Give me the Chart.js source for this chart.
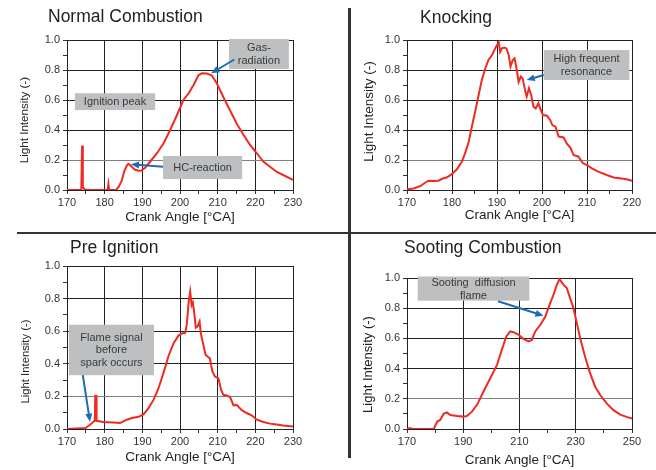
<!DOCTYPE html>
<html>
<head>
<meta charset="utf-8">
<script src="https://cdn.jsdelivr.net/npm/chart.js@4.4.1/dist/chart.umd.min.js"></script>
<style>
  body { margin: 0; background: #fff; width: 656px; height: 470px; position: relative; overflow: hidden;
         font-family: "Liberation Sans", Arial, sans-serif; }
  canvas { position: absolute; left: 0; top: 0; }
  .title { position: absolute; font-size: 17.5px; line-height: 1; color: #222; white-space: nowrap; }
  .vline { position: absolute; left: 348px; top: 8px; width: 2.5px; height: 450px; background: #333; }
  .hline { position: absolute; left: 17px; top: 232px; width: 639px; height: 2px; background: #333; }
</style>
</head>
<body>
<div class="vline"></div>
<div class="hline"></div>
<canvas id="c1" width="656" height="470"></canvas>
<canvas id="c2" width="656" height="470"></canvas>
<canvas id="c3" width="656" height="470"></canvas>
<canvas id="c4" width="656" height="470"></canvas>
<div class="title" style="left:48px;top:8.2px">Normal Combustion</div>
<div class="title" style="left:420px;top:8.5px">Knocking</div>
<div class="title" style="left:70px;top:239.2px">Pre Ignition</div>
<div class="title" style="left:404px;top:239.2px">Sooting Combustion</div>
<script>
// values
const normalAngle = [170, 173.8, 174.0, 174.2, 174.6, 175.2, 180.8, 181.0, 181.2, 183.0, 183.7, 184.5, 185.2, 185.9, 186.3, 186.8,
  187.4, 188.1, 189.0, 189.8, 190.8, 192.1, 193.9, 195.6, 197.4, 199.2, 200.9, 202.3, 203.6, 204.9, 205.8, 207.1, 208.4,
  209.8, 211.5, 213.3, 215.1, 216.8, 218.6, 220.4, 222.1, 223.9, 225.7, 227.4, 229.2, 230];
const normalIntensity = [0, 0, 0.296, 0.02, 0.006, 0, 0, 0.04, 0, 0, 0.02, 0.06, 0.125, 0.165, 0.174, 0.165,
  0.15, 0.135, 0.128, 0.13, 0.15, 0.19, 0.245, 0.31, 0.40, 0.50, 0.60, 0.645, 0.70, 0.765, 0.778, 0.777, 0.765,
  0.71, 0.62, 0.53, 0.44, 0.37, 0.30, 0.245, 0.19, 0.155, 0.12, 0.10, 0.078, 0.067];

const knockAngle = [170, 171.5, 173, 174.1, 174.8, 175.9, 177, 177.8, 178.9, 180, 181.1, 182.2, 182.9, 183.7, 184.4, 185.2,
  185.9, 186.6, 187.4, 188.1, 188.9, 189.6, 190, 190.4, 190.7, 191.1, 191.6, 192.1, 192.6, 193, 193.5, 193.9, 194.4,
  194.8, 195.3, 195.7, 196.3, 196.6, 197.1, 197.6, 198.1, 198.6, 199.2, 199.6, 200.2, 201.1, 201.8, 202.3, 203, 203.7,
  204.8, 205.5, 206.4, 207, 208.1, 209.1, 209.9, 211.1, 212.5, 214.4, 215.9, 217.3, 218.8, 220];
const knockIntensity = [0.005, 0.01, 0.027, 0.05, 0.062, 0.06, 0.062, 0.075, 0.085, 0.107, 0.138, 0.19, 0.244, 0.32, 0.42, 0.53,
  0.63, 0.73, 0.81, 0.867, 0.90, 0.944, 0.967, 0.984, 0.92, 0.944, 0.95, 0.944, 0.90, 0.823, 0.867, 0.878, 0.80,
  0.72, 0.756, 0.744, 0.656, 0.622, 0.678, 0.633, 0.556, 0.544, 0.578, 0.544, 0.50, 0.495, 0.467, 0.433, 0.422, 0.356,
  0.35, 0.31, 0.278, 0.233, 0.222, 0.178, 0.167, 0.144, 0.122, 0.10, 0.084, 0.078, 0.071, 0.062];

const preAngle = [170, 174.9, 176.2, 177.1, 177.4, 177.5, 177.75, 177.85, 179.7, 182.4, 184.1, 185.9, 187.2, 189, 190.3, 191.6,
  193, 194.3, 195.6, 196.9, 198.3, 199.6, 200.7, 201.4, 201.8, 202.3, 202.7, 203.1, 203.4, 203.7, 204.2, 204.7, 205.2,
  205.5, 206.2, 206.8, 207.3, 207.9, 208.6, 209.3, 210.2, 210.9, 211.5, 212.4, 213.3, 214.2, 215.1, 216.4, 217.7, 219,
  220.4, 222.1, 223.9, 225.7, 227.4, 230];
const preIntensity = [0, 0.006, 0.027, 0.047, 0.05, 0.204, 0.204, 0.05, 0.043, 0.04, 0.037, 0.057, 0.067, 0.075, 0.09, 0.127,
  0.18, 0.25, 0.343, 0.445, 0.527, 0.573, 0.588, 0.59, 0.64, 0.78, 0.843, 0.76, 0.776, 0.73, 0.622, 0.63, 0.66,
  0.59, 0.516, 0.455, 0.445, 0.435, 0.353, 0.322, 0.31, 0.24, 0.21, 0.206, 0.196, 0.145, 0.147, 0.116, 0.098, 0.084,
  0.057, 0.043, 0.033, 0.027, 0.022, 0.016];

const sootAngle = [170, 171, 172, 179.5, 180.7, 181.8, 183, 184.2, 185.4, 187.8, 190.1, 191.3, 193.1, 194.9, 197.2, 199.6,
  202, 203.7, 205.3, 206.7, 207.9, 209.7, 211.4, 213.2, 214.4, 215.6, 217.4, 219.2, 220.9, 222.1, 223.3, 224.2, 225.6,
  226.8, 228, 229.2, 230.4, 231.6, 233.3, 235.1, 236.9, 238.7, 241, 243.4, 245.8, 248.1, 250];
const sootIntensity = [0, 0.006, 0, 0, 0.048, 0.06, 0.1, 0.11, 0.093, 0.086, 0.082, 0.086, 0.115, 0.16, 0.248, 0.336,
  0.425, 0.524, 0.613, 0.646, 0.641, 0.624, 0.597, 0.58, 0.59, 0.646, 0.69, 0.745, 0.834, 0.889, 0.956, 0.993, 0.956,
  0.934, 0.867, 0.80, 0.70, 0.60, 0.48, 0.37, 0.28, 0.225, 0.17, 0.125, 0.095, 0.08, 0.07];

// callouts, in data coordinates
const normalNotes = [
  { text: ['Gas-', 'radiation'], box: [213, 228.9, 1.007, 0.807], arrow: [214.4, 0.87, 208.3, 0.778] },
  { text: ['Ignition peak'], box: [172.1, 193.4, 0.645, 0.533] },
  { text: ['HC-reaction'], box: [195.5, 216.5, 0.227, 0.073], arrow: [195.5, 0.155, 187.0, 0.171] }
];
const knockNotes = [
  { text: ['High frequent', 'resonance'], box: [200.4, 219.4, 0.933, 0.733], arrow: [200.4, 0.767, 196.6, 0.733] }
];
const preNotes = [
  { text: ['Flame signal', 'before', 'spark occurs'], box: [170.5, 193.1, 0.64, 0.33], arrow: [174.2, 0.33, 176.1, 0.045] }
];
const sootNotes = [
  { text: ['Sooting  diffusion', 'flame'], box: [173.8, 213.5, 1.01, 0.85], arrow: [202.4, 0.846, 218.5, 0.75] }
];

const FONT = '"Liberation Sans", Arial, sans-serif';
Chart.defaults.font.family = FONT;

function drawArrow(ctx, x1, y1, x2, y2) {
  const a = Math.atan2(y2 - y1, x2 - x1);
  const hl = 8, hw = 3.5;
  ctx.beginPath();
  ctx.moveTo(x1, y1);
  ctx.lineTo(x2 - hl * 0.8 * Math.cos(a), y2 - hl * 0.8 * Math.sin(a));
  ctx.stroke();
  ctx.beginPath();
  ctx.moveTo(x2, y2);
  ctx.lineTo(x2 - hl * Math.cos(a) + hw * Math.sin(a), y2 - hl * Math.sin(a) - hw * Math.cos(a));
  ctx.lineTo(x2 - hl * Math.cos(a) - hw * Math.sin(a), y2 - hl * Math.sin(a) + hw * Math.cos(a));
  ctx.closePath();
  ctx.fill();
}

const calloutPlugin = {
  id: 'callouts',
  afterDatasetsDraw(chart, args, opts) {
    const ctx = chart.ctx, xs = chart.scales.x, ys = chart.scales.y;
    ctx.save();
    // y axis title, placed like the original (not centred on the axis)
    const yt = opts.yTitle;
    ctx.translate(yt.x, yt.y);
    ctx.rotate(-Math.PI / 2);
    ctx.fillStyle = '#222';
    ctx.font = yt.size + 'px ' + FONT;
    ctx.textAlign = 'center';
    ctx.textBaseline = 'middle';
    ctx.fillText('Light Intensity (-)', 0, 0);
    ctx.setTransform(1, 0, 0, 1, 0, 0);

    (opts.notes || []).forEach(n => {
      const x1 = xs.getPixelForValue(n.box[0]), x2 = xs.getPixelForValue(n.box[1]);
      const y1 = ys.getPixelForValue(n.box[2]), y2 = ys.getPixelForValue(n.box[3]);
      ctx.fillStyle = '#bdbfc1';
      ctx.fillRect(x1, y1, x2 - x1, y2 - y1);
      ctx.fillStyle = '#3a3a3a';
      ctx.font = '11px ' + FONT;
      ctx.textAlign = 'center';
      ctx.textBaseline = 'middle';
      const lh = 12.8, cy = (y1 + y2) / 2 + 0.5;
      n.text.forEach((t, i) => {
        ctx.fillText(t, (x1 + x2) / 2, cy + (i - (n.text.length - 1) / 2) * lh);
      });
      if (n.arrow) {
        ctx.strokeStyle = '#1c6bb4';
        ctx.fillStyle = '#1c6bb4';
        ctx.lineWidth = 2;
        drawArrow(ctx, xs.getPixelForValue(n.arrow[0]), ys.getPixelForValue(n.arrow[1]),
          xs.getPixelForValue(n.arrow[2]), ys.getPixelForValue(n.arrow[3]));
      }
    });
    ctx.restore();
  }
};

const panels = [
  { id: 'c1', xs: normalAngle, ys: normalIntensity, notes: normalNotes, min: 170, max: 230, step: 5,
    major: v => v % 10 === 0, area: [67, 293, 40, 190], xTitlePad: 5, yTitle: { x: 25, y: 120, size: 11.6 } },
  { id: 'c2', xs: knockAngle, ys: knockIntensity, notes: knockNotes, min: 170, max: 220, step: 5,
    major: v => v % 10 === 0, area: [407, 632, 40, 190], xTitlePad: 7, yTitle: { x: 369, y: 111.5, size: 13.5 } },
  { id: 'c3', xs: preAngle, ys: preIntensity, notes: preNotes, min: 170, max: 230, step: 5,
    major: v => v % 10 === 0, area: [67, 293, 266, 429], xTitlePad: 4, yTitle: { x: 26, y: 361.5, size: 11.3 } },
  { id: 'c4', xs: sootAngle, ys: sootIntensity, notes: sootNotes, min: 170, max: 250, step: 10,
    major: v => (v - 170) % 20 === 0, area: [407, 632, 278, 429], xTitlePad: 1, yTitle: { x: 368.5, y: 364.5, size: 13 } }
];

panels.forEach(p => {
  const [L, R, T, B] = p.area;
  const isMajorY = v => Math.round(v * 10) % 2 === 0;
  new Chart(document.getElementById(p.id), {
    type: 'line',
    data: {
      datasets: [{
        data: p.xs.map((x, i) => ({ x: x, y: p.ys[i] })),
        borderColor: '#ee2a22',
        borderWidth: 2,
        pointRadius: 0,
        tension: 0,
        fill: false
      }]
    },
    options: {
      responsive: false,
      animation: false,
      layout: { padding: { left: L - 60, right: 656 - R, top: T, bottom: 470 - B - 40 } },
      plugins: {
        legend: { display: false },
        tooltip: { enabled: false },
        callouts: { notes: p.notes, yTitle: p.yTitle }
      },
      scales: {
        x: {
          type: 'linear', min: p.min, max: p.max,
          afterFit: s => { s.height = 40; },
          ticks: {
            stepSize: p.step, autoSkip: false, maxRotation: 0, padding: 2, color: '#333',
            font: { size: 11 },
            callback: v => p.major(v) ? String(v) : ''
          },
          grid: {
            color: c => p.major(c.tick.value) ? '#222' : 'rgba(0,0,0,0)',
            tickColor: '#333', tickLength: 4, lineWidth: 1
          },
          border: { color: '#222', width: 1 },
          title: {
            display: true, text: 'Crank Angle [°CA]', color: '#222',
            font: { size: 13.5 }, padding: { top: 0, bottom: p.xTitlePad }
          }
        },
        y: {
          min: 0, max: 1,
          afterFit: s => { s.width = 60; },
          ticks: {
            stepSize: 0.1, autoSkip: false, padding: 3, color: '#333',
            font: { size: 11 },
            callback: v => isMajorY(v) ? v.toFixed(1) : ''
          },
          grid: {
            color: c => {
              const v = c.tick.value;
              if (!isMajorY(v)) return 'rgba(0,0,0,0)';
              return Math.abs(v - 0.2) < 1e-6 ? '#808080' : '#222';
            },
            tickColor: '#333', tickLength: 4, lineWidth: 1
          },
          border: { color: '#222', width: 1 },
          title: { display: false }
        }
      }
    },
    plugins: [calloutPlugin]
  });
});
</script>
</body>
</html>
